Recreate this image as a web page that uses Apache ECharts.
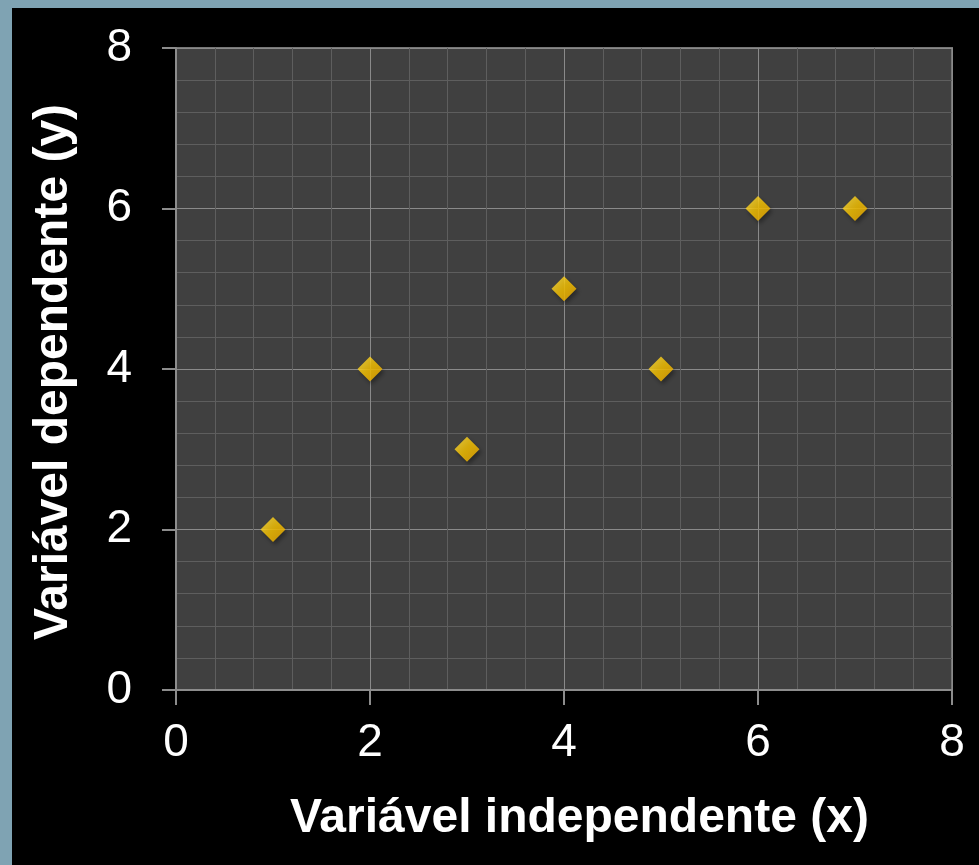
<!DOCTYPE html>
<html><head><meta charset="utf-8">
<script src="https://cdn.jsdelivr.net/npm/echarts@6/dist/echarts.min.js"></script>
<style>html,body{margin:0;padding:0;background:#000;}#c{width:979px;height:865px;}</style>
</head><body><div id="c"></div>
<script>
const xValues = [1, 2, 3, 4, 5, 6, 7];
const yValues = [2, 4, 3, 5, 4, 6, 6];
const xTitle = 'Variável independente (x)';
const yTitle = 'Variável dependente (y)';

const points = xValues.map((x, i) => [x, yValues[i]]);
const chart = echarts.init(document.getElementById('c'));
const axisCommon = {
  type: 'value', min: 0, max: 8, interval: 2,
  axisLine: { show: true, lineStyle: { color: '#8c8c8c', width: 2 } },
  axisTick: { show: true, length: 14, lineStyle: { color: '#8c8c8c', width: 2 } },
  splitLine: { show: true, lineStyle: { color: '#8a8a8a', width: 1 } },
  minorTick: { show: false, splitNumber: 5 },
  minorSplitLine: { show: true, lineStyle: { color: '#5e5e5e', width: 1 } },
  axisLabel: { color: '#fff', fontSize: 46, fontFamily: 'Liberation Sans, Arial, sans-serif' }
};
chart.setOption({
  backgroundColor: '#000',
  animation: false,
  graphic: [
    { type: 'rect', shape: { x: 0, y: 0, width: 979, height: 8 }, style: { fill: '#7fa3b3' } },
    { type: 'rect', shape: { x: 0, y: 0, width: 12, height: 865 }, style: { fill: '#7fa3b3' } },
    { type: 'text', left: 290, top: 795, style: { text: xTitle, fill: '#fff', font: 'bold 48px "Liberation Sans", Arial, sans-serif' } },
    { type: 'text', x: 54, y: 372, rotation: Math.PI / 2, style: { text: yTitle, fill: '#fff', font: 'bold 48px "Liberation Sans", Arial, sans-serif', align: 'center', verticalAlign: 'middle' } }
  ],
  grid: { left: 176, top: 48, width: 776, height: 642, show: true, backgroundColor: '#404040', borderColor: '#777', borderWidth: 2 },
  xAxis: Object.assign({}, axisCommon, { axisLabel: Object.assign({}, axisCommon.axisLabel, { margin: 30 }), axisTick: { show: true, length: 15, lineStyle: { color: '#8c8c8c', width: 2 } } }),
  yAxis: Object.assign({}, axisCommon, { axisLabel: Object.assign({}, axisCommon.axisLabel, { margin: 44 }) }),
  series: [{
    type: 'scatter', data: points, symbol: 'diamond', symbolSize: [25, 25],
    itemStyle: {
      color: new echarts.graphic.LinearGradient(0, 0, 1, 1, [
        { offset: 0, color: '#ffe040' }, { offset: 0.5, color: '#ffc800' }, { offset: 1, color: '#f0aa00' }
      ]),
      borderWidth: 0,
      shadowBlur: 4, shadowOffsetX: 2, shadowOffsetY: 3, shadowColor: 'rgba(0,0,0,0.45)'
    }
  }]
});
</script></body></html>
